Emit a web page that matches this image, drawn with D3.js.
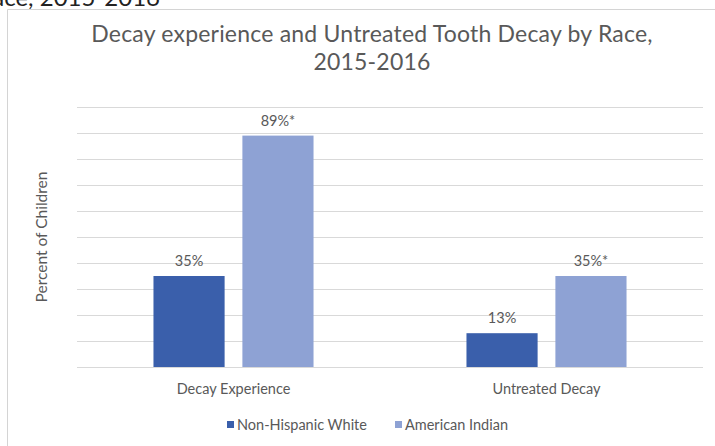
<!DOCTYPE html>
<html>
<head>
<meta charset="utf-8">
<script src="https://cdn.jsdelivr.net/npm/d3@7"></script>
<style>
  body { margin: 0; background: #fff; }
  text { font-family: Lato, "Open Sans", sans-serif; fill: #595959; }
</style>
</head>
<body>
<div id="chart"></div>
<script>
var width = 715;
var height = 446;

// data
var categories = ["Decay Experience", "Untreated Decay"];
var seriesNames = ["Non-Hispanic White", "American Indian"];
var whiteValues = [35, 13];
var indianValues = [89, 35];
var valueLabels = [["35%", "89%*"], ["13%", "35%*"]];
var yTicks = [0, 10, 20, 30, 40, 50, 60, 70, 80, 90, 100];

var colors = ["#3a5fab", "#8ea2d4"];

var svg = d3.select("#chart").append("svg")
    .attr("width", width)
    .attr("height", height);

// clipped caption above the chart box
svg.append("text")
    .attr("x", 160)
    .attr("y", 6)
    .attr("text-anchor", "end")
    .attr("font-size", "24px")
    .style("fill", "#222")
    .text("Race, 2015-2016");

// chart frame (left and top edges only visible)
svg.append("line")
    .attr("x1", 7.5).attr("x2", 7.5)
    .attr("y1", 9.5).attr("y2", height)
    .attr("stroke", "#d4d4d4");
svg.append("line")
    .attr("x1", 7.5).attr("x2", width)
    .attr("y1", 9.5).attr("y2", 9.5)
    .attr("stroke", "#d4d4d4");

// title
var title = svg.append("text")
    .attr("x", 372)
    .attr("y", 42)
    .attr("text-anchor", "middle")
    .attr("font-size", "23px")
    .attr("letter-spacing", "0.2px");
title.append("tspan").attr("x", 372).text("Decay experience and Untreated Tooth Decay by Race,");
title.append("tspan").attr("x", 372).attr("dy", 28).text("2015-2016");

var plotLeft = 77, plotRight = 703, plotTop = 107, plotBottom = 367;

var x = d3.scaleBand()
    .domain(categories)
    .range([plotLeft, plotRight]);

var x1 = d3.scaleBand()
    .domain(seriesNames)
    .range([0, x.bandwidth()])
    .paddingInner(0.2)
    .paddingOuter(0.86);

var y = d3.scaleLinear()
    .domain([0, 100])
    .range([plotBottom, plotTop]);

// gridlines
svg.append("g")
    .selectAll("line")
    .data(yTicks)
    .enter()
    .append("line")
    .attr("x1", plotLeft)
    .attr("x2", plotRight)
    .attr("y1", function(d) { return Math.round(y(d)) + 0.5; })
    .attr("y2", function(d) { return Math.round(y(d)) + 0.5; })
    .attr("stroke", "#d9d9d9")
    .attr("stroke-width", 1);

var rows = categories.map(function(c, i) {
    return [
        { cat: c, series: seriesNames[0], value: whiteValues[i], label: valueLabels[i][0], color: colors[0] },
        { cat: c, series: seriesNames[1], value: indianValues[i], label: valueLabels[i][1], color: colors[1] }
    ];
});

var groups = svg.selectAll(".group")
    .data(rows)
    .enter()
    .append("g")
    .attr("class", "group")
    .attr("transform", function(d, i) { return "translate(" + x(categories[i]) + ",0)"; });

groups.selectAll("rect")
    .data(function(d) { return d; })
    .enter()
    .append("rect")
    .attr("x", function(d) { return x1(d.series); })
    .attr("y", function(d) { return y(d.value); })
    .attr("width", x1.bandwidth())
    .attr("height", function(d) { return y(0) - y(d.value); })
    .attr("fill", function(d) { return d.color; });

groups.selectAll(".vlabel")
    .data(function(d) { return d; })
    .enter()
    .append("text")
    .attr("class", "vlabel")
    .attr("x", function(d) { return x1(d.series) + x1.bandwidth() / 2; })
    .attr("y", function(d) { return y(d.value) - 10; })
    .attr("text-anchor", "middle")
    .attr("font-size", "14.5px")
    .text(function(d) { return d.label; });

// category axis labels
svg.append("g")
    .selectAll("text")
    .data(categories)
    .enter()
    .append("text")
    .attr("x", function(d) { return x(d) + x.bandwidth() / 2; })
    .attr("y", 394)
    .attr("text-anchor", "middle")
    .attr("font-size", "14.5px")
    .text(function(d) { return d; });

// y axis title
svg.append("text")
    .attr("transform", "translate(47," + (plotTop + plotBottom) / 2 + ") rotate(-90)")
    .attr("text-anchor", "middle")
    .attr("font-size", "15.5px")
    .text("Percent of Children");

// legend
var legendX = [227, 395];
var legend = svg.append("g")
    .selectAll("g")
    .data(seriesNames)
    .enter()
    .append("g")
    .attr("transform", function(d, i) { return "translate(" + legendX[i] + ",425)"; });

legend.append("rect")
    .attr("x", 0)
    .attr("y", -4)
    .attr("width", 7)
    .attr("height", 7)
    .attr("fill", function(d, i) { return colors[i]; });

legend.append("text")
    .attr("x", 10)
    .attr("y", 5)
    .attr("font-size", "14.5px")
    .text(function(d) { return d; });
</script>
</body>
</html>
